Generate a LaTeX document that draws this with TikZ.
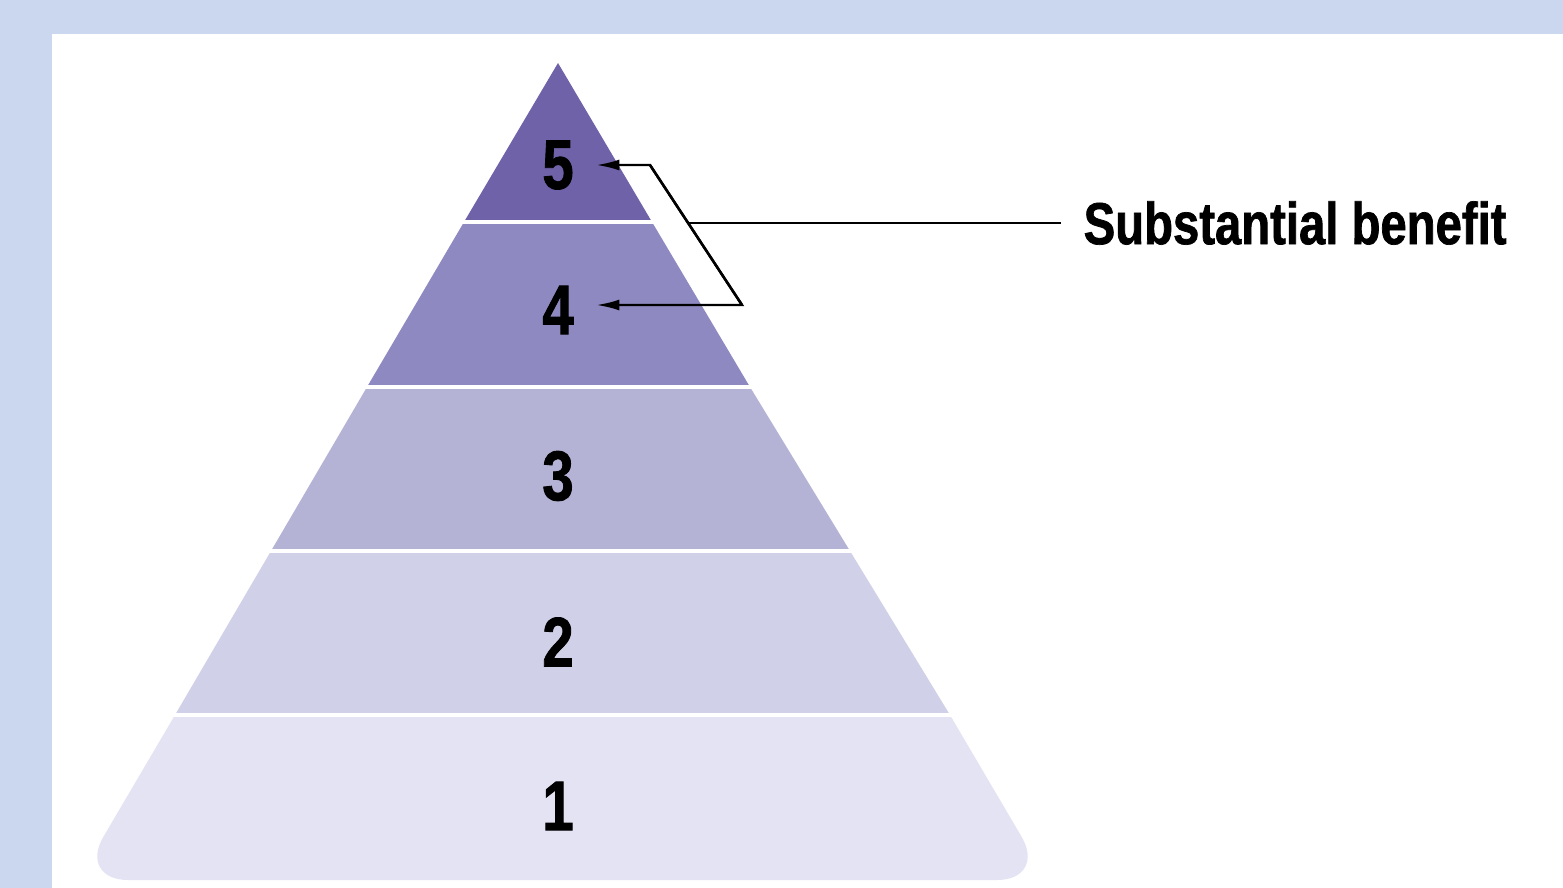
\documentclass[tikz,border=0pt]{standalone}
\usepackage{fontspec}
\setmainfont{Liberation Sans}
\newfontfamily\narrowfont{Liberation Sans}[FakeStretch=0.8,FakeBold=1.2]
\usetikzlibrary{arrows.meta}
\definecolor{frameblue}{RGB}{203,215,238}
\definecolor{tierfive}{RGB}{112,98,168}
\definecolor{tierfour}{RGB}{143,137,193}
\definecolor{tierthree}{RGB}{180,179,214}
\definecolor{tiertwo}{RGB}{208,208,232}
\definecolor{tierone}{RGB}{228,227,243}
\tikzset{
  tiernum/.style={font=\narrowfont\bfseries\fontsize{20}{24}\selectfont, inner xsep=0.22cm},
  callout/.style={font=\narrowfont\bfseries\fontsize{16.8}{20}\selectfont, inner xsep=0.22cm, anchor=west},
  pointer/.style={line width=0.7pt, -{Latex[length=0.23cm,width=0.11cm]}}
}
\begin{document}
\begin{tikzpicture}[x=0.01cm, y=-0.01cm]
  % Frame: light blue border at top and left
  \fill[frameblue] (0,0) rectangle (1563,888);
  \fill[white] (52,34) rectangle (1563,888);
  \useasboundingbox (0,0) rectangle (1563,888);
  % Pyramid tiers, top to bottom
  \fill[tierfive] (558,63) -- (652,222) -- (464,222) -- cycle;
  \fill[tierfour] (464,222) -- (652,222) -- (750,387) -- (367,387) -- cycle;
  \fill[tierthree] (367,387) -- (750,387) -- (850,551) -- (271,551) -- cycle;
  \fill[tiertwo] (271,551) -- (850,551) -- (950,715) -- (175,715) -- cycle;
  % Bottom tier has rounded base corners
  \fill[tierone] (175,715) [rounded corners=0.5cm] -- (78,880) -- (1047,880) [sharp corners] -- (950,715) -- cycle;
  % White gaps between tiers
  \draw[white, line width=1.2pt] (400,222) -- (720,222);
  \draw[white, line width=1.2pt] (300,387) -- (820,387);
  \draw[white, line width=1.2pt] (200,551) -- (920,551);
  \draw[white, line width=1.2pt] (100,715) -- (1020,715);
  % Tier numbers
  \node[tiernum] (n5) at (558,165) {5};
  \node[tiernum] (n4) at (558,310) {4};
  \node[tiernum] (n3) at (558,476) {3};
  \node[tiernum] (n2) at (558,642) {2};
  \node[tiernum] (n1) at (558,806) {1};
  % Callout for the two top tiers
  \node[callout] (benefit) at (1061,223) {Substantial benefit};
  \coordinate (bend5) at (650,165);
  \coordinate (bend4) at (742,305);
  \coordinate (joint) at (688,223);
  \draw[line width=0.7pt] (benefit.west) -- (joint);
  \draw[pointer] (bend4) -- (bend5) -- (n5.east |- bend5);
  \draw[pointer] (bend5) -- (bend4) -- (n4.east |- bend4);
\end{tikzpicture}
\end{document}
